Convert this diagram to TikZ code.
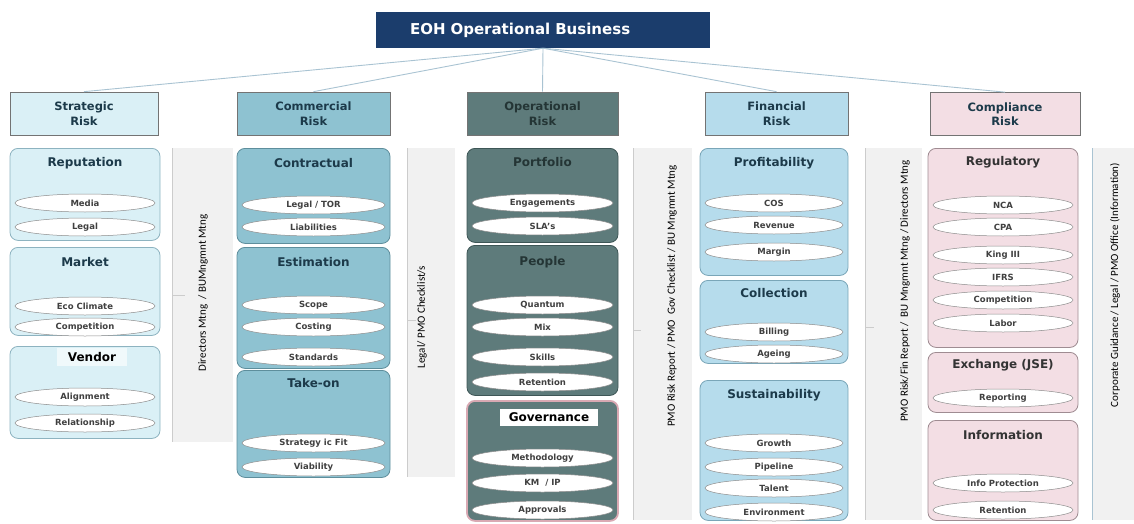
\documentclass[tikz,border=0pt]{standalone}
\usepackage{fontspec}
\setmainfont{DejaVu Sans}
\newfontfamily\bandfont{Carlito}
\usepackage{xcolor}
\usetikzlibrary{shapes.geometric}

% Farben
\definecolor{topblue}{HTML}{1B3D6C}
\definecolor{linkblue}{HTML}{A9C3D2}
\definecolor{titletxt}{HTML}{1C3A4A}
\definecolor{strfill}{HTML}{DAF0F6}
\definecolor{strline}{HTML}{8DB3C0}
\definecolor{comfill}{HTML}{8EC2D1}
\definecolor{comline}{HTML}{5E8E9C}
\definecolor{opfill}{HTML}{5E7B7B}
\definecolor{opline}{HTML}{3E5656}
\definecolor{optxt}{HTML}{243535}
\definecolor{finfill}{HTML}{B6DCEC}
\definecolor{finline}{HTML}{7AA6B8}
\definecolor{cmpfill}{HTML}{F3DEE4}
\definecolor{cmpline}{HTML}{9F8C92}
\definecolor{govpink}{HTML}{D9A9B3}
\definecolor{bandgray}{HTML}{F1F1F1}

\tikzset{
  topbox/.style={rectangle, fill=topblue, minimum width=334, minimum height=36, text width=266,
    align=left, inner sep=0pt, text=white, font=\fontsize{15}{17}\selectfont\bfseries},
  hdr/.style={rectangle, draw=black!55, line width=0.7pt, minimum height=43, inner sep=0pt,
    align=center, text=titletxt, font=\fontsize{11.5}{14.5}\selectfont\bfseries},
  grp/.style={rectangle, rounded corners=8pt, line width=0.8pt, anchor=north, inner sep=0pt},
  ttl/.style={inner sep=1pt, text=titletxt, font=\fontsize{12}{14}\selectfont\bfseries},
  item/.style={ellipse, draw=black!45, fill=white, line width=0.5pt, minimum width=#1,
    minimum height=18, inner sep=0pt, text=black!75, font=\fontsize{8.5}{9}\selectfont\bfseries},
  bandtxt/.style={rotate=90, inner sep=0pt, text=black, font=\bandfont\fontsize{11}{13}\selectfont},
  link/.style={draw=linkblue, line width=0.9pt}
}

\begin{document}
\begin{tikzpicture}[x=1pt, y=-1pt]
\useasboundingbox (0,0) rectangle (1134,524);

% Kopf
\node[topbox] (eoh) at (543,30) {EOH Operational Business};

% Risikokategorien
\node[hdr, fill=strfill, minimum width=148] (strat) at (84,113.5) {Strategic\\Risk};
\node[hdr, fill=comfill, minimum width=153] (comm) at (313.5,113.5) {Commercial\\Risk};
\node[hdr, fill=opfill, text=optxt, minimum width=151] (oper) at (542.5,113.5) {Operational\\Risk};
\node[hdr, fill=finfill, minimum width=143] (fin) at (776.5,113.5) {Financial\\Risk};
\node[hdr, fill=cmpfill, minimum width=150] (comp) at (1005,114) {Compliance\\Risk};

\draw[link] (eoh.south) -- (strat.north);
\draw[link] (eoh.south) -- (comm.north);
\draw[link] (eoh.south) -- (oper.north);
\draw[link] (eoh.south) -- (fin.north);
\draw[link] (eoh.south) -- (comp.north);

% Baender mit Gremien
\fill[bandgray] (172,148) rectangle (233,442);
\draw[black!20] (172,148) -- (172,442) (172,295) -- (185,295);
\node[bandtxt] (strat-band) at (203,293) {Directors Mtng~ / BUMngmnt Mtng};

\fill[bandgray] (407,148) rectangle (455,477);
\draw[black!20] (407,148) -- (407,477) (407,320) -- (416,320);
\node[bandtxt] (comm-band) at (422,317) {Legal/ PMO Checklist/s};

\fill[bandgray] (633,148) rectangle (692,520);
\draw[black!20] (633,148) -- (633,520) (633,330) -- (641,330);
\node[bandtxt] (oper-band) at (672,296) {PMO Risk Report / PMO~ Gov Checklist / BU Mngmnt Mtng};

\fill[bandgray] (865,148) rectangle (922,520);
\draw[black!20] (865,148) -- (865,520) (865,327) -- (874,327);
\node[bandtxt] (fin-band) at (905,291) {PMO Risk/Fin Report /~ BU Mngmnt Mtng / Directors Mtng};

\fill[bandgray] (1092,148) rectangle (1134,520);
\draw[linkblue] (1092,148) -- (1092,520);
\node[bandtxt] (comp-band) at (1115,285) {Corporate Guidance / Legal / PMO Office (Information)};

% Strategic
\node[grp, fill=strfill, draw=strline, minimum width=150, minimum height=92] (rep) at (85,148) {};
\node[ttl] (rep-t) at (85,163) {Reputation};
\node[item=140] (rep-1) at (85,203) {Media};
\node[item=140] (rep-2) at (85,227) {Legal};

\node[grp, fill=strfill, draw=strline, minimum width=150, minimum height=88] (mkt) at (85,247) {};
\node[ttl] (mkt-t) at (85,262) {Market};
\node[item=140] (mkt-1) at (85,306) {Eco Climate};
\node[item=140] (mkt-2) at (85,327) {Competition};

\node[grp, fill=strfill, draw=strline, minimum width=150, minimum height=92] (ven) at (85,346) {};
\node[ttl, fill=white!60!strfill, text=black, minimum width=70, minimum height=18] (ven-t) at (92,357) {Vendor};
\node[item=140] (ven-1) at (85,397) {Alignment};
\node[item=140] (ven-2) at (85,423) {Relationship};

% Commercial
\node[grp, fill=comfill, draw=comline, minimum width=153, minimum height=95] (con) at (313.5,148) {};
\node[ttl] (con-t) at (313.5,163) {Contractual};
\node[item=143] (con-1) at (313.5,205) {Legal / TOR};
\node[item=143] (con-2) at (313.5,227) {Liabilities};

\node[grp, fill=comfill, draw=comline, minimum width=153, minimum height=121] (est) at (313.5,247) {};
\node[ttl] (est-t) at (313.5,262) {Estimation};
\node[item=143] (est-1) at (313.5,305) {Scope};
\node[item=143] (est-2) at (313.5,327) {Costing};
\node[item=143] (est-3) at (313.5,357) {Standards};

\node[grp, fill=comfill, draw=comline, minimum width=153, minimum height=107] (tak) at (313.5,370) {};
\node[ttl] (tak-t) at (313.5,383) {Take-on};
\node[item=143] (tak-1) at (313.5,443) {Strategy ic Fit};
\node[item=143] (tak-2) at (313.5,467) {Viability};

% Operational
\node[grp, fill=opfill, draw=opline, minimum width=151, minimum height=94] (por) at (542.5,148) {};
\node[ttl, text=optxt] (por-t) at (542.5,162) {Portfolio};
\node[item=141] (por-1) at (542.5,203) {Engagements};
\node[item=141] (por-2) at (542.5,226) {SLA's};

\node[grp, fill=opfill, draw=opline, minimum width=151, minimum height=150] (peo) at (542.5,245) {};
\node[ttl, text=optxt] (peo-t) at (542.5,262) {People};
\node[item=141] (peo-1) at (542.5,305) {Quantum};
\node[item=141] (peo-2) at (542.5,327) {Mix};
\node[item=141] (peo-3) at (542.5,357) {Skills};
\node[item=141] (peo-4) at (542.5,382) {Retention};

\node[grp, fill=opfill, draw=govpink, line width=1.8pt, minimum width=151, minimum height=120] (gov) at (542.5,400) {};
\node[ttl, fill=white, text=black, minimum width=98, minimum height=17] (gov-t) at (549,417) {Governance};
\node[item=141] (gov-1) at (542.5,458) {Methodology};
\node[item=141] (gov-2) at (542.5,483) {KM~ / IP};
\node[item=141] (gov-3) at (542.5,510) {Approvals};

% Financial
\node[grp, fill=finfill, draw=finline, minimum width=148, minimum height=127] (pro) at (774,148) {};
\node[ttl] (pro-t) at (774,163) {Profitability};
\node[item=138] (pro-1) at (774,203) {COS};
\node[item=138] (pro-2) at (774,225) {Revenue};
\node[item=138] (pro-3) at (774,252) {Margin};

\node[grp, fill=finfill, draw=finline, minimum width=148, minimum height=83] (col) at (774,280) {};
\node[ttl] (col-t) at (774,293) {Collection};
\node[item=138] (col-1) at (774,332) {Billing};
\node[item=138] (col-2) at (774,354) {Ageing};

\node[grp, fill=finfill, draw=finline, minimum width=148, minimum height=140] (sus) at (774,380) {};
\node[ttl] (sus-t) at (774,395) {Sustainability};
\node[item=138] (sus-1) at (774,443) {Growth};
\node[item=138] (sus-2) at (774,467) {Pipeline};
\node[item=138] (sus-3) at (774,488) {Talent};
\node[item=138] (sus-4) at (774,512) {Environment};

% Compliance
\node[grp, fill=cmpfill, draw=cmpline, minimum width=150, minimum height=199] (reg) at (1003,148) {};
\node[ttl, text=black!80] (reg-t) at (1003,162) {Regulatory};
\node[item=140] (reg-1) at (1003,205) {NCA};
\node[item=140] (reg-2) at (1003,227) {CPA};
\node[item=140] (reg-3) at (1003,255) {King III};
\node[item=140] (reg-4) at (1003,277) {IFRS};
\node[item=140] (reg-5) at (1003,300) {Competition};
\node[item=140] (reg-6) at (1003,323) {Labor};

\node[grp, fill=cmpfill, draw=cmpline, minimum width=150, minimum height=60] (jse) at (1003,352) {};
\node[ttl, text=black!80] (jse-t) at (1003,365) {Exchange (JSE)};
\node[item=140] (jse-1) at (1003,398) {Reporting};

\node[grp, fill=cmpfill, draw=cmpline, minimum width=150, minimum height=100] (inf) at (1003,420) {};
\node[ttl, text=black!80] (inf-t) at (1003,435) {Information};
\node[item=140] (inf-1) at (1003,483) {Info Protection};
\node[item=140] (inf-2) at (1003,510) {Retention};

\end{tikzpicture}
\end{document}
